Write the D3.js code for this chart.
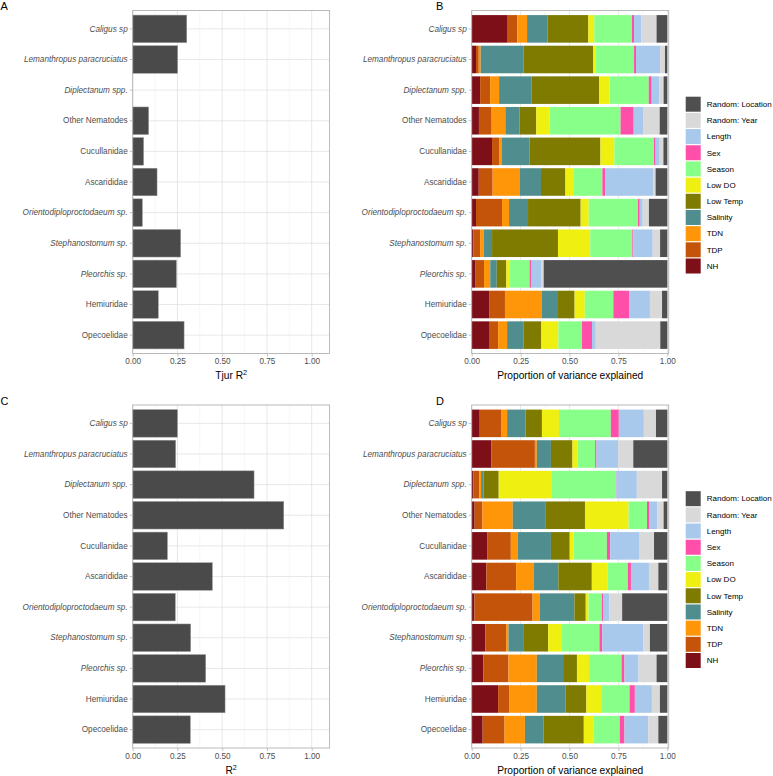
<!DOCTYPE html>
<html>
<head>
<meta charset="utf-8">
<script src="https://cdn.jsdelivr.net/npm/d3@7/dist/d3.min.js"></script>
<style>
  html, body { margin: 0; padding: 0; background: #fff; }
  svg { display: block; font-family: "Liberation Sans", Arial, sans-serif; }
</style>
</head>
<body>
<svg id="chart" width="773" height="776"></svg>
<script>
// ---------------- DATA ----------------
const categories = [
  "Caligus sp", "Lemanthropus paracruciatus", "Diplectanum spp.", "Other Nematodes",
  "Cucullanidae", "Ascarididae", "Orientodiploproctodaeum sp.", "Stephanostomum sp.",
  "Pleorchis sp.", "Hemiuridae", "Opecoelidae"
];
const italicCategories = [
  "Caligus sp", "Lemanthropus paracruciatus", "Diplectanum spp.",
  "Orientodiploproctodaeum sp.", "Stephanostomum sp.", "Pleorchis sp."
];
// Panel A: Tjur R2
const tjurR2 = [0.302, 0.251, 0.0, 0.089, 0.061, 0.136, 0.054, 0.268, 0.244, 0.143, 0.287];
// Panel C: R2
const r2 = [0.250, 0.240, 0.678, 0.844, 0.194, 0.445, 0.238, 0.324, 0.408, 0.516, 0.322];

const components = ["NH", "TDP", "TDN", "Salinity", "Low Temp", "Low DO", "Season", "Sex",
                    "Length", "Random: Year", "Random: Location"];
const componentColors = ["#7d0f19", "#c35409", "#ff960a", "#4f8d8e", "#7e7b00", "#efef12",
                         "#88ff88", "#ff4fa8", "#a8c8ec", "#d9d9d9", "#4f4f4f"];
const xTicks = [0, 0.25, 0.5, 0.75, 1.0];

// Panel B: proportion of variance explained (order = components)
const varCaligusB      = [0.184, 0.049, 0.050, 0.104, 0.209, 0.031, 0.192, 0.011, 0.037, 0.078, 0.055];
const varLemanthropusB = [0.022, 0.014, 0.010, 0.220, 0.354, 0.012, 0.198, 0.010, 0.123, 0.025, 0.012];
const varDiplectanumB  = [0.043, 0.051, 0.046, 0.167, 0.344, 0.054, 0.200, 0.015, 0.039, 0.022, 0.019];
const varOtherNemB     = [0.037, 0.065, 0.070, 0.073, 0.085, 0.069, 0.362, 0.067, 0.048, 0.085, 0.039];
const varCucullanB     = [0.104, 0.036, 0.015, 0.140, 0.363, 0.071, 0.203, 0.008, 0.021, 0.019, 0.020];
const varAscaridB      = [0.036, 0.071, 0.140, 0.107, 0.125, 0.044, 0.145, 0.015, 0.245, 0.012, 0.060];
const varOrientoB      = [0.022, 0.133, 0.036, 0.097, 0.269, 0.041, 0.252, 0.009, 0.015, 0.032, 0.094];
const varStephanoB     = [0.009, 0.034, 0.018, 0.043, 0.337, 0.165, 0.215, 0.004, 0.100, 0.038, 0.037];
const varPleorchisB    = [0.020, 0.043, 0.032, 0.033, 0.049, 0.019, 0.100, 0.007, 0.051, 0.014, 0.632];
const varHemiuridB     = [0.089, 0.081, 0.189, 0.082, 0.085, 0.052, 0.146, 0.080, 0.107, 0.062, 0.027];
const varOpecoelidB    = [0.092, 0.043, 0.046, 0.085, 0.090, 0.087, 0.121, 0.051, 0.019, 0.330, 0.036];

// Panel D
const varCaligusD      = [0.041, 0.109, 0.031, 0.094, 0.084, 0.087, 0.265, 0.041, 0.128, 0.062, 0.058];
const varLemanthropusD = [0.101, 0.222, 0.010, 0.072, 0.110, 0.027, 0.089, 0.007, 0.111, 0.077, 0.174];
const varDiplectanumD  = [0.009, 0.030, 0.009, 0.012, 0.078, 0.272, 0.328, 0.002, 0.104, 0.129, 0.027];
const varOtherNemD     = [0.015, 0.040, 0.155, 0.169, 0.200, 0.223, 0.094, 0.013, 0.040, 0.032, 0.019];
const varCucullanD     = [0.079, 0.121, 0.036, 0.169, 0.096, 0.020, 0.170, 0.017, 0.147, 0.077, 0.068];
const varAscaridD      = [0.075, 0.152, 0.089, 0.127, 0.171, 0.080, 0.104, 0.016, 0.092, 0.048, 0.046];
const varOrientoD      = [0.014, 0.297, 0.036, 0.178, 0.058, 0.014, 0.068, 0.007, 0.031, 0.066, 0.231];
const varStephanoD     = [0.070, 0.106, 0.012, 0.079, 0.124, 0.067, 0.195, 0.015, 0.209, 0.034, 0.089];
const varPleorchisD    = [0.060, 0.128, 0.145, 0.134, 0.071, 0.062, 0.166, 0.015, 0.072, 0.092, 0.055];
const varHemiuridD     = [0.135, 0.056, 0.142, 0.146, 0.107, 0.076, 0.145, 0.027, 0.087, 0.041, 0.038];
const varOpecoelidD    = [0.056, 0.112, 0.104, 0.096, 0.205, 0.051, 0.133, 0.024, 0.122, 0.051, 0.046];

const varPartB = [varCaligusB, varLemanthropusB, varDiplectanumB, varOtherNemB, varCucullanB,
  varAscaridB, varOrientoB, varStephanoB, varPleorchisB, varHemiuridB, varOpecoelidB];
const varPartD = [varCaligusD, varLemanthropusD, varDiplectanumD, varOtherNemD, varCucullanD,
  varAscaridD, varOrientoD, varStephanoD, varPleorchisD, varHemiuridD, varOpecoelidD];

// ---------------- DRAWING ----------------
const svg = d3.select("#chart");
const TEXT_GREY = "#4d4d4d";
const BORDER = "#b3b3b3";
const GRID_MAJOR = "#dedede";
const GRID_MINOR = "#ececec";
const TICK_FS = 8.2;
const LEGEND_FS = 8.0;
const TITLE_FS = 10.2;

const color = d3.scaleOrdinal().domain(components).range(componentColors);

function panelFrame(g, x, y, minors) {
  const [x0, x1] = x.range();
  const [y0, y1] = y.range();
  g.append("g").selectAll("line").data(minors).join("line")
    .attr("x1", d => x(d)).attr("x2", d => x(d)).attr("y1", y0).attr("y2", y1)
    .attr("stroke", GRID_MINOR).attr("stroke-width", 0.4);
  g.append("g").selectAll("line").data(xTicks).join("line")
    .attr("x1", d => x(d)).attr("x2", d => x(d)).attr("y1", y0).attr("y2", y1)
    .attr("stroke", GRID_MAJOR).attr("stroke-width", 0.7);
  g.append("g").selectAll("line").data(categories).join("line")
    .attr("x1", x0).attr("x2", x1)
    .attr("y1", d => y(d) + y.bandwidth() / 2).attr("y2", d => y(d) + y.bandwidth() / 2)
    .attr("stroke", GRID_MAJOR).attr("stroke-width", 0.7);
}

function axes(g, x, y) {
  const [x0, x1] = x.range();
  const [y0, y1] = y.range();
  g.append("rect").attr("x", x0).attr("y", y0).attr("width", x1 - x0).attr("height", y1 - y0)
    .attr("fill", "none").attr("stroke", BORDER).attr("stroke-width", 0.9);

  const yAxis = d3.axisLeft(y).tickSize(3).tickPadding(2);
  const ya = g.append("g").attr("transform", `translate(${x0},0)`).call(yAxis);
  ya.attr("font-family", null).attr("font-size", null);
  ya.select(".domain").remove();
  ya.selectAll(".tick line").attr("stroke", BORDER).attr("stroke-width", 0.8);
  ya.selectAll(".tick text")
    .attr("fill", TEXT_GREY).attr("font-size", TICK_FS)
    .attr("font-style", d => italicCategories.includes(d) ? "italic" : "normal");

  const xAxis = d3.axisBottom(x).tickValues(xTicks).tickFormat(d3.format(".2f")).tickSize(3).tickPadding(2);
  const xa = g.append("g").attr("transform", `translate(0,${y1})`).call(xAxis);
  xa.attr("font-family", null).attr("font-size", null);
  xa.select(".domain").remove();
  xa.selectAll(".tick line").attr("stroke", BORDER).attr("stroke-width", 0.8);
  xa.selectAll(".tick text").attr("fill", TEXT_GREY).attr("font-size", TICK_FS);
}

function axisTitle(g, xc, yb, parts) {
  const t = g.append("text").attr("x", xc).attr("y", yb).attr("text-anchor", "middle")
    .attr("font-size", TITLE_FS).attr("fill", "#000");
  parts.forEach(p => {
    const s = t.append("tspan").text(p.text);
    if (p.sup) s.attr("font-size", TITLE_FS * 0.7).attr("dy", -4);
  });
}

function barPanel(top, values, titleParts, label) {
  const y0 = top, y1 = top + 343;
  const x = d3.scaleLinear().domain([0, 1.1]).range([132.7, 132.7 + 1.1 * 179]);
  const y = d3.scaleBand().domain(categories).range([y0, y1]).paddingInner(0.1).paddingOuter(0.15);
  const g = svg.append("g");
  panelFrame(g, x, y, [0.125, 0.375, 0.625, 0.875]);
  const data = categories.map((c, i) => ({ c, v: values[i] }));
  g.append("g").selectAll("rect").data(data.filter(d => d.v > 0)).join("rect")
    .attr("x", x(0)).attr("y", d => y(d.c))
    .attr("width", d => x(d.v) - x(0)).attr("height", y.bandwidth())
    .attr("fill", "#4a4a4a").attr("stroke", "#9a9a9a").attr("stroke-width", 0.5);
  axes(g, x, y);
  axisTitle(g, (x.range()[0] + x.range()[1]) / 2, y1 + 25.5, titleParts);
  svg.append("text").attr("x", 0.5).attr("y", top - 0.5).attr("font-size", 11).attr("fill", "#000").text(label);
}

function stackPanel(top, rows, label) {
  const y0 = top, y1 = top + 343;
  const x = d3.scaleLinear().domain([0, 1.007]).range([471.7, 668.7]);
  const y = d3.scaleBand().domain(categories).range([y0, y1]).paddingInner(0.1).paddingOuter(0.15);
  const g = svg.append("g");
  panelFrame(g, x, y, [0.125, 0.375, 0.625, 0.875]);
  const table = categories.map((c, i) => {
    const o = { category: c };
    components.forEach((k, j) => o[k] = rows[i][j]);
    return o;
  });
  const series = d3.stack().keys(components).offset(d3.stackOffsetExpand)(table);
  g.append("g").selectAll("g").data(series).join("g")
    .attr("fill", d => color(d.key))
    .selectAll("rect").data(d => d).join("rect")
    .attr("x", d => x(d[0])).attr("y", d => y(d.data.category))
    .attr("width", d => Math.max(0, x(d[1]) - x(d[0]))).attr("height", y.bandwidth());
  axes(g, x, y);
  axisTitle(g, (x.range()[0] + x.range()[1]) / 2, y1 + 25.5, [{ text: "Proportion of variance explained" }]);
  svg.append("text").attr("x", 436).attr("y", top - 0.5).attr("font-size", 11).attr("fill", "#000").text(label);

  const legendItems = components.slice().reverse();
  const lg = svg.append("g").attr("transform", `translate(685.7,${top + 86.2})`);
  const item = lg.selectAll("g").data(legendItems).join("g")
    .attr("transform", (d, i) => `translate(0,${i * 16.18})`);
  item.append("rect").attr("width", 15).attr("height", 15).attr("fill", d => color(d));
  item.append("text").attr("x", 21).attr("y", 7.5).attr("dy", "0.35em")
    .attr("font-size", LEGEND_FS).attr("fill", "#000").text(d => d);
}

barPanel(10.5, tjurR2, [{ text: "Tjur R" }, { text: "2", sup: true }], "A");
stackPanel(10.5, varPartB, "B");
barPanel(405, r2, [{ text: "R" }, { text: "2", sup: true }], "C");
stackPanel(405, varPartD, "D");
</script>
</body>
</html>
